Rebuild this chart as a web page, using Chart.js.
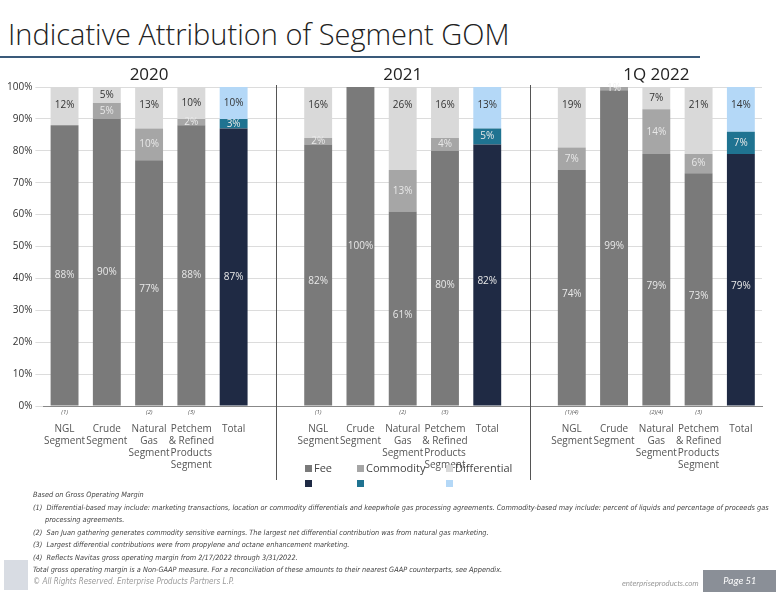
<!DOCTYPE html>
<html><head><meta charset="utf-8">
<script src="https://cdn.jsdelivr.net/npm/chart.js@4"></script>
<style>
body{margin:0;width:776px;height:600px;position:relative;font-family:Calibri,Carlito,"Open Sans",sans-serif;background:#fff;overflow:hidden}
#title{position:absolute;left:8px;top:14px;font-size:29px;color:#222;font-family:"Open Sans",sans-serif;font-weight:300}
#rule{position:absolute;left:0;top:56px;width:700px;height:2px;background:#3a5a7a}
#wrap{position:absolute;left:0;top:60px;width:776px;height:420px}
#legend{position:absolute;top:460px;font-size:11px;color:#444;font-family:"Open Sans",sans-serif}
.lg{position:absolute;white-space:nowrap}
.sw{display:inline-block;width:7px;height:7px;margin-right:2px}
#notes{position:absolute;left:33px;top:489px;font-size:7.3px;color:#444;font-style:italic;line-height:12.5px;font-family:"Liberation Sans Narrow","DejaVu Sans Condensed",sans-serif}
#notes .ind{padding-left:12px;text-indent:-12px}
#foot1{position:absolute;left:33px;top:565px;font-size:7.3px;font-style:italic;color:#444;font-family:"DejaVu Sans Condensed",sans-serif}
#foot2{position:absolute;left:33px;top:577px;font-size:8px;font-style:italic;color:#999;font-family:"DejaVu Sans Condensed",sans-serif}
#site{position:absolute;left:622px;top:578px;font-size:8px;font-style:italic;color:#999}
#page{position:absolute;left:703px;top:570px;width:73px;height:22px;background:#8a8f97;color:#fff;font-size:10px;font-style:italic;text-align:center;line-height:22px}
#logo{position:absolute;left:4px;top:560px;width:24px;height:30px;background:#d8dce3}
</style></head><body>
<div id="title">Indicative Attribution of Segment GOM</div>
<div id="rule"></div>
<div id="wrap"><canvas id="c"></canvas></div>
<div id="legend">
<div class="lg" style="left:305px"><span class="sw" style="background:#7a7a7a"></span>Fee<br><span class="sw" style="background:#1f2a44"></span></div>
<div class="lg" style="left:357px"><span class="sw" style="background:#a6a6a6"></span>Commodity<br><span class="sw" style="background:#1f7391"></span></div>
<div class="lg" style="left:446px"><span class="sw" style="background:#d9d9d9"></span>Differential<br><span class="sw" style="background:#b4d8f7"></span></div>
</div>
<div id="notes">Based on Gross Operating Margin<br>
<div class="ind">(1)&nbsp; Differential-based may include:  marketing transactions, location or commodity differentials and keepwhole gas processing agreements. Commodity-based may include:  percent of liquids and percentage of proceeds gas processing agreements.</div>
(2)&nbsp; San Juan gathering generates commodity sensitive earnings. The largest net differential contribution was from natural gas marketing.<br>
(3)&nbsp; Largest differential contributions were from propylene and octane enhancement marketing.<br>
(4)&nbsp; Reflects Navitas gross operating margin from 2/17/2022 through 3/31/2022.</div>
<div id="logo"></div>
<div id="foot1">Total gross operating margin is a Non-GAAP measure. For a reconciliation of these amounts to their nearest GAAP counterparts, see Appendix.</div>
<div id="foot2">© All Rights Reserved. Enterprise Products Partners L.P.</div>
<div id="site">enterpriseproducts.com</div>
<div id="page">Page 51</div>
<script>
const groups=["2020","2021","1Q 2022"];
const labels=[["NGL","Segment"],["Crude","Segment"],["Natural","Gas","Segment"],["Petchem","& Refined","Products","Segment"],["Total"],[""],
["NGL","Segment"],["Crude","Segment"],["Natural","Gas","Segment"],["Petchem","& Refined","Products","Segment"],["Total"],[""],
["NGL","Segment"],["Crude","Segment"],["Natural","Gas","Segment"],["Petchem","& Refined","Products","Segment"],["Total"]];
const notes=["(1)","","(2)","(3)","","","(1)","","(2)","(3)","","","(1)(4)","","(2)(4)","(3)",""];
const fee=[88,90,77,88,87,null,82,100,61,80,82,null,74,99,79,73,79];
const commodity=[0,5,10,2,3,null,2,0,13,4,5,null,7,1,14,6,7];
const differential=[12,5,13,10,10,null,16,0,26,16,13,null,19,0,7,21,14];
const yTicks=[0,10,20,30,40,50,60,70,80,90,100];
const isTot=i=>i===4||i===10||i===16;
const col=(base,tot)=>labels.map((l,i)=>isTot(i)?tot:base);
const labelPlugin={id:'lbl',afterDatasetsDraw(ch){
 const c=ch.ctx;c.save();c.textAlign='center';c.textBaseline='middle';
 const tc=['#e8e8e8','#e8e8e8','#333'];
 ch.data.datasets.forEach((ds,di)=>{
  ch.getDatasetMeta(di).data.forEach((b,i)=>{
   const v=ds.data[i];if(!v)return;
   c.font='10px "Open Sans",sans-serif';
   let col=tc[di];if(isTot(i)&&di===1)col='#e8e8e8';if(isTot(i)&&di===2)col='#333';
   if(i===13&&di===1)col='#f0f0f0';
   c.fillStyle=col;
   let y=(b.y+b.base)/2;
   if(di===0)y=ch.scales.y.getPixelForValue(v>=99?50:v>=85?v/2-3:v/2-2);
   if(di===2&&v>8)y=Math.min(y,ch.scales.y.getPixelForValue(100)+18);
   c.fillText(v+'%',b.x,y);
  });
 });
 const xa=ch.scales.x,ya=ch.scales.y;
 c.strokeStyle='#555';c.lineWidth=1;
 [5,11].forEach(k=>{const x=Math.round(xa.getPixelForValue(k))+.5;c.beginPath();c.moveTo(x,ya.top-2);c.lineTo(x,ya.bottom+112);c.stroke();});
 c.font='17px "Open Sans",sans-serif';c.fillStyle='#222';
 [2,8,14].forEach((k,g)=>c.fillText(groups[g],xa.getPixelForValue(k),ya.top-12));
 c.font='italic 6px "Open Sans",sans-serif';c.fillStyle='#555';
 notes.forEach((n,i)=>{if(n)c.fillText(n,xa.getPixelForValue(i),ya.bottom+6);});
 c.restore();
}};
new Chart(document.getElementById('c'),{type:'bar',
 data:{labels:labels,datasets:[
  {label:'Fee',data:fee,backgroundColor:col('#7a7a7a','#1f2a44')},
  {label:'Commodity',data:commodity,backgroundColor:col('#a6a6a6','#1f7391')},
  {label:'Differential',data:differential,backgroundColor:col('#d9d9d9','#b4d8f7')}]},
 options:{responsive:true,maintainAspectRatio:false,animation:false,
  layout:{padding:{top:27,right:14,left:4,bottom:0}},
  plugins:{legend:{display:false},tooltip:{enabled:false}},
  datasets:{bar:{categoryPercentage:1,barPercentage:0.66}},
  scales:{
   x:{stacked:true,grid:{display:false},border:{color:'#888'},
     ticks:{color:'#555',font:{size:10,family:'"Open Sans",sans-serif'},maxRotation:0,autoSkip:false,padding:9,
       callback:(v,i)=>labels[i]}},
   y:{stacked:true,min:0,max:100,afterBuildTicks:a=>{a.ticks=yTicks.map(v=>({value:v}));},
     grid:{color:'#dcdcdc'},border:{display:false},
     ticks:{color:'#333',font:{size:10,family:'"Open Sans",sans-serif'},callback:v=>v+'%'}}}},
 plugins:[labelPlugin]});
</script></body></html>
